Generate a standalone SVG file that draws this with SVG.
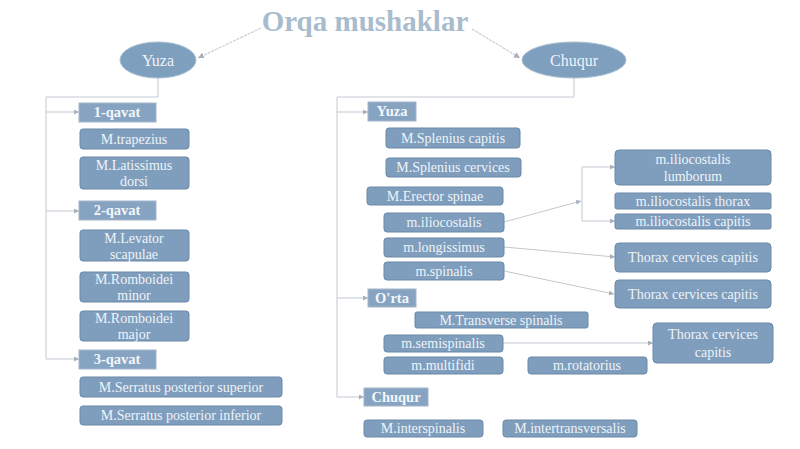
<svg xmlns="http://www.w3.org/2000/svg" width="800" height="449" viewBox="0 0 800 449">
<style>
.bg{fill:#ffffff}
.title{font-family:"Liberation Serif",serif;font-size:29px;font-weight:bold;fill:#a9bccd}
.ell{fill:#7f9fbf;stroke:#a9bfd3;stroke-width:1}
.hdr{fill:#86a4c1;stroke:#a3b6c9;stroke-width:1}
.box{fill:#7f9ebd;stroke:#6a89a8;stroke-width:1}
.t{font-family:"Liberation Serif",serif;font-size:14px;fill:#eef3f8;text-anchor:middle}
.th{font-family:"Liberation Serif",serif;font-size:14.5px;font-weight:bold;fill:#f2f6fa;text-anchor:middle}
.te{font-family:"Liberation Serif",serif;font-size:16px;fill:#eef3f8;text-anchor:middle}
.ln{fill:none;stroke:#c3c9d1;stroke-width:1}
.dl{fill:none;stroke:#c9ced5;stroke-width:1.2;stroke-dasharray:3 1}
</style>
<defs>
<marker id="ar" viewBox="0 0 6 6" refX="6" refY="3" markerWidth="5" markerHeight="5" orient="auto">
<path d="M0,0L6,3L0,6z" fill="#a7b0bb"/>
</marker>
</defs>
<rect class="bg" x="0" y="0" width="800" height="449"/>

<g id="connectors">
<line class="dl" x1="261" y1="28" x2="198" y2="58" marker-end="url(#ar)"/>
<line class="dl" x1="472" y1="29" x2="520" y2="58" marker-end="url(#ar)"/>
<polyline class="ln" points="158,78 158,97 46,97 46,359"/>
<line class="ln" x1="46" y1="112" x2="79" y2="112" marker-end="url(#ar)"/>
<line class="ln" x1="46" y1="211" x2="79" y2="211" marker-end="url(#ar)"/>
<line class="ln" x1="46" y1="359" x2="79" y2="359" marker-end="url(#ar)"/>
<polyline class="ln" points="574,78 574,97 337,97 337,397"/>
<line class="ln" x1="337" y1="112" x2="368" y2="112" marker-end="url(#ar)"/>
<line class="ln" x1="337" y1="298" x2="368" y2="298" marker-end="url(#ar)"/>
<line class="ln" x1="337" y1="397" x2="364" y2="397" marker-end="url(#ar)"/>
<line class="ln" x1="504" y1="222" x2="581" y2="201" marker-end="url(#ar)"/>
<line class="ln" x1="582" y1="167" x2="582" y2="221"/>
<line class="ln" x1="582" y1="167" x2="615" y2="167" marker-end="url(#ar)"/>
<line class="ln" x1="582" y1="221" x2="615" y2="221" marker-end="url(#ar)"/>
<line class="ln" x1="504" y1="247" x2="615" y2="257" marker-end="url(#ar)"/>
<line class="ln" x1="504" y1="271" x2="614" y2="294" marker-end="url(#ar)"/>
<line class="ln" x1="503" y1="343" x2="653" y2="343" marker-end="url(#ar)"/>
</g>

<g id="title"><text class="title" x="365" y="31" text-anchor="middle">Orqa mushaklar</text></g>

<g id="yuza"><ellipse class="ell" cx="158" cy="60" rx="38" ry="18"/><text class="te" x="158" y="66">Yuza</text></g>
<g id="chuqur"><ellipse class="ell" cx="574" cy="60" rx="52" ry="18"/><text class="te" x="574" y="66">Chuqur</text></g>

<g id="qavat1"><rect class="hdr" x="79" y="103" width="77" height="19"/><text class="th" x="117" y="117">1-qavat</text></g>
<g id="trapezius"><rect class="box" x="80" y="129" width="109" height="20" rx="3"/><text class="t" x="134" y="144">M.trapezius</text></g>
<g id="latissimus"><rect class="box" x="80" y="157" width="109" height="32" rx="3"/><text class="t" x="134" y="170">M.Latissimus</text><text class="t" x="134" y="186">dorsi</text></g>
<g id="qavat2"><rect class="hdr" x="79" y="201" width="77" height="19"/><text class="th" x="117" y="215">2-qavat</text></g>
<g id="levator"><rect class="box" x="80" y="230" width="109" height="31" rx="3"/><text class="t" x="134" y="243">M.Levator</text><text class="t" x="134" y="259">scapulae</text></g>
<g id="romboidei-minor"><rect class="box" x="80" y="272" width="109" height="30" rx="3"/><text class="t" x="134" y="284">M.Romboidei</text><text class="t" x="134" y="300">minor</text></g>
<g id="romboidei-major"><rect class="box" x="80" y="311" width="109" height="30" rx="3"/><text class="t" x="134" y="323">M.Romboidei</text><text class="t" x="134" y="339">major</text></g>
<g id="qavat3"><rect class="hdr" x="79" y="350" width="77" height="19"/><text class="th" x="117" y="364">3-qavat</text></g>
<g id="serratus-sup"><rect class="box" x="80" y="377" width="202" height="20" rx="3"/><text class="t" x="181" y="392">M.Serratus posterior superior</text></g>
<g id="serratus-inf"><rect class="box" x="80" y="406" width="202" height="19" rx="3"/><text class="t" x="181" y="420">M.Serratus posterior inferior</text></g>

<g id="r-yuza"><rect class="hdr" x="368" y="102" width="48" height="19"/><text class="th" x="392" y="116">Yuza</text></g>
<g id="splenius-capitis"><rect class="box" x="386" y="128" width="134" height="20" rx="3"/><text class="t" x="453" y="143">M.Splenius capitis</text></g>
<g id="splenius-cervices"><rect class="box" x="386" y="158" width="135" height="19" rx="3"/><text class="t" x="453" y="172">M.Splenius cervices</text></g>
<g id="erector"><rect class="box" x="367" y="187" width="136" height="18" rx="3"/><text class="t" x="435" y="201">M.Erector spinae</text></g>
<g id="iliocostalis"><rect class="box" x="384" y="213" width="120" height="19" rx="3"/><text class="t" x="444" y="227">m.iliocostalis</text></g>
<g id="longissimus"><rect class="box" x="384" y="238" width="120" height="19" rx="3"/><text class="t" x="444" y="252">m.longissimus</text></g>
<g id="spinalis"><rect class="box" x="384" y="262" width="120" height="18" rx="3"/><text class="t" x="444" y="276">m.spinalis</text></g>

<g id="ilio-lumborum"><rect class="box" x="615" y="150" width="156" height="35" rx="4"/><text class="t" x="693" y="164">m.iliocostalis</text><text class="t" x="693" y="181">lumborum</text></g>
<g id="ilio-thorax"><rect class="box" x="615" y="193" width="156" height="16" rx="2"/><text class="t" x="693" y="206">m.iliocostalis thorax</text></g>
<g id="ilio-capitis"><rect class="box" x="615" y="214" width="156" height="15" rx="2"/><text class="t" x="693" y="226">m.iliocostalis capitis</text></g>
<g id="tcc1"><rect class="box" x="615" y="243" width="156" height="29" rx="4"/><text class="t" x="693" y="262">Thorax cervices capitis</text></g>
<g id="tcc2"><rect class="box" x="615" y="280" width="156" height="28" rx="4"/><text class="t" x="693" y="299">Thorax cervices capitis</text></g>

<g id="orta"><rect class="hdr" x="368" y="289" width="48" height="18"/><text class="th" x="392" y="303">O'rta</text></g>
<g id="transverse"><rect class="box" x="415" y="312" width="173" height="16" rx="2"/><text class="t" x="501" y="325">M.Transverse spinalis</text></g>
<g id="semispinalis"><rect class="box" x="384" y="335" width="119" height="17" rx="3"/><text class="t" x="443" y="348">m.semispinalis</text></g>
<g id="multifidi"><rect class="box" x="384" y="357" width="119" height="17" rx="3"/><text class="t" x="443" y="370">m.multifidi</text></g>
<g id="rotatorius"><rect class="box" x="528" y="357" width="119" height="17" rx="3"/><text class="t" x="587" y="370">m.rotatorius</text></g>
<g id="tcc3"><rect class="box" x="653" y="323" width="120" height="40" rx="4"/><text class="t" x="713" y="339">Thorax cervices</text><text class="t" x="713" y="357">capitis</text></g>

<g id="r-chuqur"><rect class="hdr" x="364" y="388" width="64" height="18"/><text class="th" x="396" y="402">Chuqur</text></g>
<g id="interspinalis"><rect class="box" x="364" y="420" width="119" height="17" rx="3"/><text class="t" x="423" y="433">M.interspinalis</text></g>
<g id="intertransversalis"><rect class="box" x="503" y="420" width="134" height="17" rx="3"/><text class="t" x="570" y="433">M.intertransversalis</text></g>
</svg>
